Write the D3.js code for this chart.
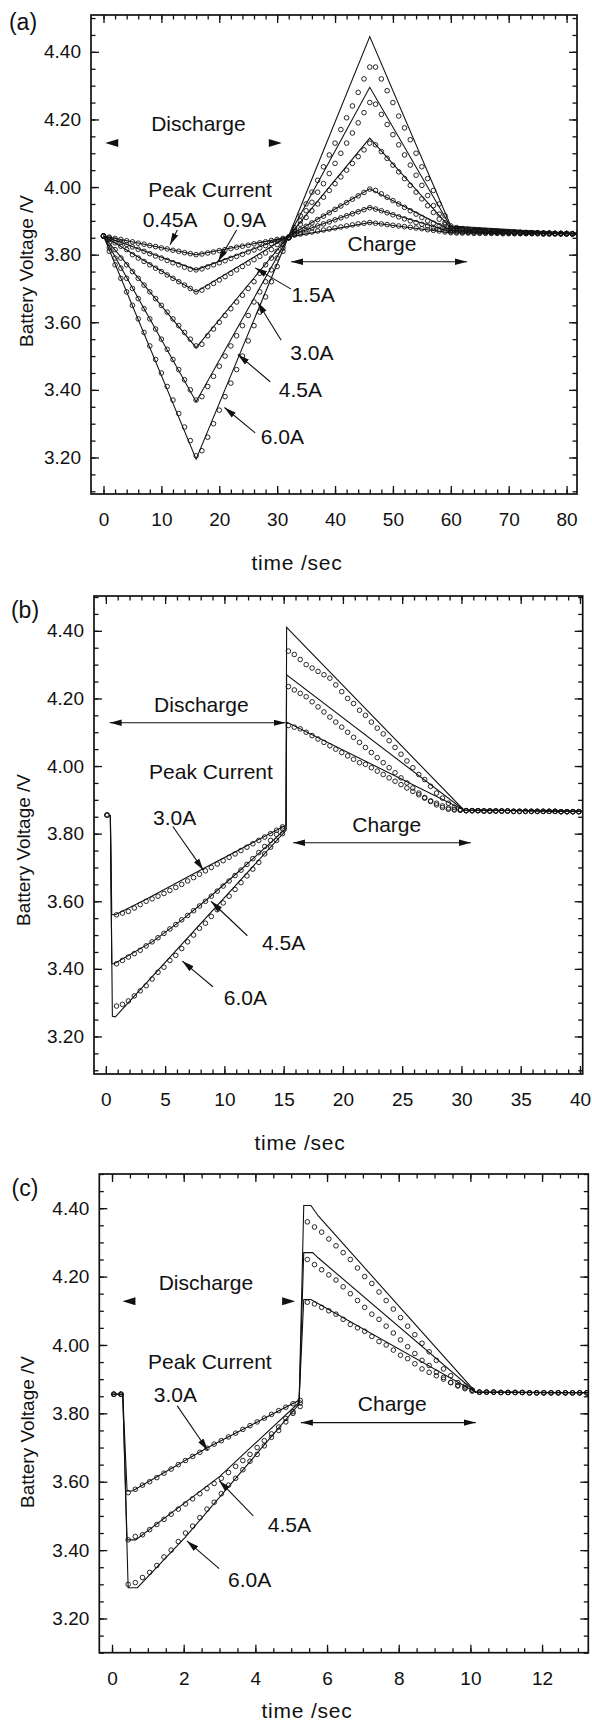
<!DOCTYPE html>
<html>
<head>
<meta charset="utf-8">
<script src="https://cdn.jsdelivr.net/npm/d3@7"></script>
<style>
  body { margin: 0; background: #fff; }
  svg { display: block; background: #fff; }
  text { font-family: 'Liberation Sans', Arial, sans-serif; fill: #111; }
</style>
</head>
<body>
<div id="chart-container"></div>
<script>
// ---------- shared tick labels ----------
const voltTicks = [3.2, 3.4, 3.6, 3.8, 4.0, 4.2, 4.4]
const timeTicksA = [0, 10, 20, 30, 40, 50, 60, 70, 80]
const timeTicksB = [0, 5, 10, 15, 20, 25, 30, 35, 40]
const timeTicksC = [0, 2, 4, 6, 8, 10, 12]

// ---------- panel (a): simulated lines (vertex times + values) ----------
const lineTimesA = [0, 16, 32, 46, 60, 82]
const lineA045 = [3.855, 3.800, 3.852, 3.895, 3.865, 3.861]
const lineA09 = [3.855, 3.755, 3.855, 3.940, 3.868, 3.861]
const lineA15 = [3.855, 3.690, 3.855, 3.995, 3.872, 3.862]
const lineA30 = [3.855, 3.525, 3.855, 4.145, 3.878, 3.862]
const lineA45 = [3.855, 3.365, 3.855, 4.295, 3.882, 3.862]
const lineA60 = [3.855, 3.195, 3.855, 4.445, 3.885, 3.862]

// panel (a): measured points, one every second from 0 to 82 s
const pointTimesA = d3.range(0, 83, 1)
const ptsA045 = [
  3.855, 3.852, 3.848, 3.845, 3.841, 3.838, 3.834, 3.831, 3.827, 3.824, 3.82, 3.817, 3.813, 3.81, 3.806, 3.803, 3.80,
  3.802, 3.805, 3.808, 3.812, 3.815, 3.818, 3.822, 3.825, 3.828, 3.832, 3.835, 3.838, 3.842, 3.845, 3.848, 3.852,
  3.858, 3.861, 3.864, 3.867, 3.87, 3.873, 3.876, 3.879, 3.882, 3.885, 3.888, 3.891, 3.893, 3.895, 3.893, 3.891,
  3.889, 3.887, 3.885, 3.883, 3.881, 3.879, 3.877, 3.874, 3.872, 3.87, 3.867, 3.865,
  3.864, 3.864, 3.864, 3.863, 3.863, 3.863, 3.863, 3.863, 3.862, 3.862, 3.862, 3.862, 3.862, 3.862, 3.862, 3.861,
  3.861, 3.861, 3.861, 3.861, 3.861, 3.861,
]
const ptsA09 = [
  3.855, 3.849, 3.843, 3.836, 3.83, 3.823, 3.816, 3.81, 3.803, 3.796, 3.79, 3.783, 3.776, 3.77, 3.763, 3.757, 3.755,
  3.758, 3.764, 3.77, 3.776, 3.782, 3.789, 3.795, 3.801, 3.808, 3.814, 3.82, 3.827, 3.833, 3.84, 3.846, 3.852,
  3.861, 3.867, 3.873, 3.879, 3.885, 3.891, 3.897, 3.903, 3.909, 3.915, 3.921, 3.927, 3.933, 3.939, 3.935, 3.93,
  3.924, 3.918, 3.912, 3.906, 3.90, 3.895, 3.89, 3.885, 3.88, 3.875, 3.871, 3.868,
  3.867, 3.866, 3.866, 3.865, 3.865, 3.865, 3.864, 3.864, 3.864, 3.864, 3.863, 3.863, 3.863, 3.863, 3.863, 3.862,
  3.862, 3.862, 3.862, 3.862, 3.862, 3.861,
]
const ptsA15 = [
  3.855, 3.845, 3.835, 3.825, 3.815, 3.80, 3.79, 3.78, 3.77, 3.76, 3.75, 3.74, 3.73, 3.72, 3.71, 3.70, 3.69,
  3.695, 3.705, 3.715, 3.725, 3.735, 3.745, 3.755, 3.765, 3.775, 3.785, 3.795, 3.805, 3.815, 3.83, 3.84, 3.85,
  3.864, 3.874, 3.884, 3.894, 3.904, 3.914, 3.924, 3.934, 3.944, 3.954, 3.964, 3.974, 3.984, 3.994, 3.99, 3.98,
  3.97, 3.96, 3.95, 3.94, 3.93, 3.92, 3.91, 3.90, 3.893, 3.886, 3.879, 3.872,
  3.87, 3.869, 3.868, 3.868, 3.867, 3.867, 3.866, 3.866, 3.865, 3.865, 3.865, 3.864, 3.864, 3.864, 3.863, 3.863,
  3.863, 3.863, 3.862, 3.862, 3.862, 3.862,
]
const ptsA30 = [
  3.855, 3.835, 3.815, 3.79, 3.77, 3.75, 3.73, 3.71, 3.69, 3.67, 3.65, 3.63, 3.61, 3.59, 3.57, 3.55, 3.53,
  3.535, 3.56, 3.58, 3.60, 3.62, 3.64, 3.66, 3.68, 3.70, 3.72, 3.745, 3.77, 3.79, 3.81, 3.83, 3.85,
  3.87, 3.89, 3.91, 3.93, 3.95, 3.97, 3.99, 4.01, 4.03, 4.05, 4.07, 4.09, 4.11, 4.13, 4.125, 4.105,
  4.085, 4.065, 4.045, 4.025, 4.005, 3.985, 3.965, 3.945, 3.925, 3.905, 3.89, 3.877,
  3.875, 3.873, 3.872, 3.871, 3.87, 3.869, 3.868, 3.867, 3.867, 3.866, 3.866, 3.865, 3.865, 3.864, 3.864, 3.864,
  3.863, 3.863, 3.863, 3.862, 3.862, 3.862,
]
const ptsA45 = [
  3.855, 3.82, 3.79, 3.76, 3.73, 3.70, 3.67, 3.64, 3.61, 3.58, 3.55, 3.52, 3.49, 3.46, 3.43, 3.40, 3.37,
  3.38, 3.41, 3.44, 3.47, 3.50, 3.53, 3.56, 3.59, 3.62, 3.66, 3.69, 3.72, 3.755, 3.79, 3.82, 3.85,
  3.875, 3.90, 3.93, 3.955, 3.985, 4.01, 4.04, 4.07, 4.10, 4.13, 4.16, 4.19, 4.22, 4.25, 4.245, 4.215,
  4.185, 4.155, 4.125, 4.095, 4.065, 4.035, 4.005, 3.975, 3.945, 3.92, 3.895, 3.88,
  3.877, 3.875, 3.873, 3.872, 3.871, 3.87, 3.869, 3.868, 3.867, 3.867, 3.866, 3.866, 3.865, 3.865, 3.864, 3.864,
  3.864, 3.863, 3.863, 3.863, 3.862, 3.862,
]
const ptsA60 = [
  3.855, 3.81, 3.77, 3.73, 3.69, 3.65, 3.61, 3.57, 3.53, 3.49, 3.45, 3.41, 3.37, 3.33, 3.29, 3.25, 3.205,
  3.22, 3.26, 3.30, 3.34, 3.38, 3.42, 3.46, 3.50, 3.545, 3.59, 3.63, 3.675, 3.72, 3.765, 3.81, 3.85,
  3.88, 3.915, 3.95, 3.985, 4.02, 4.06, 4.095, 4.13, 4.17, 4.205, 4.24, 4.28, 4.32, 4.355, 4.355, 4.32,
  4.285, 4.25, 4.21, 4.175, 4.14, 4.10, 4.06, 4.025, 3.99, 3.95, 3.915, 3.885,
  3.88, 3.877, 3.875, 3.873, 3.872, 3.871, 3.87, 3.869, 3.868, 3.867, 3.867, 3.866, 3.866, 3.865, 3.865, 3.864,
  3.864, 3.863, 3.863, 3.863, 3.862, 3.862,
]

// ---------- panel (b) ----------
const lineB30 = [[0.38, 3.855], [0.5, 3.56], [0.8, 3.56], [3.4, 3.606], [7.8, 3.689], [11.5, 3.757],
  [15.2, 3.825], [15.25, 4.13], [30.2, 3.87], [40.3, 3.866]]
const lineB45 = [[0.38, 3.855], [0.5, 3.415], [0.7, 3.415], [4, 3.482], [6.5, 3.547], [8.55, 3.606],
  [11.5, 3.697], [15.2, 3.815], [15.25, 4.27], [30.2, 3.87], [40.3, 3.866]]
const lineB60 = [[0.38, 3.855], [0.55, 3.26], [0.8, 3.258], [15.2, 3.81], [15.25, 4.41], [30.2, 3.87],
  [40.3, 3.866]]

// measured points: one at 0.1 s, then every 0.5 s from 0.9 s to 39.9 s
const pointTimesB = [0.1].concat(d3.range(0.9, 40, 0.5))
const ptsB30 = [
  3.855,
  3.56, 3.565, 3.57, 3.58, 3.59, 3.60, 3.607, 3.615, 3.623, 3.632, 3.641, 3.65, 3.66, 3.67, 3.68, 3.69, 3.70,
  3.71, 3.72, 3.73, 3.74, 3.75, 3.76, 3.77, 3.78, 3.79, 3.80, 3.81, 3.82,
  4.12, 4.115, 4.11, 4.10, 4.09, 4.08, 4.07, 4.06, 4.05, 4.04, 4.03, 4.02, 4.01, 4.005, 3.995, 3.985, 3.975,
  3.965, 3.955, 3.945, 3.935, 3.925, 3.915, 3.905, 3.897, 3.89, 3.882, 3.876, 3.872, 3.87,
  3.868, 3.868, 3.868, 3.867, 3.867, 3.867, 3.867, 3.867, 3.866, 3.866, 3.866, 3.866, 3.866, 3.866, 3.866,
  3.866, 3.865, 3.865, 3.865, 3.865,
]
const ptsB45 = [
  3.855,
  3.415, 3.425, 3.435, 3.445, 3.455, 3.468, 3.48, 3.492, 3.505, 3.518, 3.531, 3.545, 3.558, 3.572, 3.586,
  3.60, 3.615, 3.63, 3.645, 3.66, 3.676, 3.692, 3.709, 3.726, 3.744, 3.762, 3.78, 3.798, 3.815,
  4.235, 4.225, 4.215, 4.205, 4.19, 4.175, 4.16, 4.145, 4.13, 4.115, 4.10, 4.085, 4.07, 4.055, 4.04, 4.025,
  4.01, 3.995, 3.98, 3.965, 3.95, 3.935, 3.92, 3.907, 3.895, 3.885, 3.877, 3.872, 3.87, 3.869,
  3.868, 3.868, 3.868, 3.867, 3.867, 3.867, 3.867, 3.867, 3.866, 3.866, 3.866, 3.866, 3.866, 3.866, 3.866,
  3.866, 3.865, 3.865, 3.865, 3.865,
]
const ptsB60 = [
  3.855,
  3.29, 3.295, 3.305, 3.32, 3.335, 3.35, 3.37, 3.39, 3.405, 3.425, 3.44, 3.46, 3.48, 3.50, 3.52, 3.535,
  3.555, 3.575, 3.595, 3.615, 3.635, 3.655, 3.675, 3.695, 3.715, 3.74, 3.76, 3.78, 3.80,
  4.34, 4.33, 4.315, 4.30, 4.29, 4.28, 4.27, 4.26, 4.24, 4.22, 4.20, 4.185, 4.165, 4.15, 4.13, 4.112, 4.095,
  4.075, 4.055, 4.035, 4.015, 3.995, 3.975, 3.96, 3.94, 3.92, 3.905, 3.89, 3.878, 3.872,
  3.868, 3.868, 3.868, 3.867, 3.867, 3.867, 3.867, 3.867, 3.866, 3.866, 3.866, 3.866, 3.866, 3.866, 3.866,
  3.866, 3.865, 3.865, 3.865, 3.865,
]

// ---------- panel (c) ----------
const lineC30 = [[0, 3.856], [0.3, 3.856], [0.42, 3.573], [0.57, 3.573], [2.62, 3.697], [5.22, 3.838],
  [5.35, 4.133], [5.55, 4.133], [10.15, 3.862], [13.4, 3.86]]
const lineC45 = [[0, 3.856], [0.3, 3.856], [0.42, 3.43], [0.66, 3.43], [3.0, 3.615], [5.22, 3.832],
  [5.35, 4.27], [5.6, 4.27], [5.75, 4.255], [10.15, 3.862], [13.4, 3.86]]
const lineC60 = [[0, 3.856], [0.3, 3.856], [0.45, 3.29], [0.71, 3.29], [2.04, 3.437], [5.22, 3.827],
  [5.35, 4.408], [5.55, 4.408], [5.75, 4.378], [10.15, 3.862], [13.4, 3.86]]

// measured points every 0.2 s from 0.05 s
const pointTimesC = d3.range(0.05, 13.3, 0.2)
const ptsC30 = [
  3.856, 3.856,
  3.568, 3.578, 3.59, 3.60, 3.612, 3.625, 3.637, 3.65, 3.662, 3.674, 3.686, 3.698, 3.71, 3.72, 3.731,
  3.742, 3.753, 3.764, 3.775, 3.786, 3.797, 3.808, 3.818, 3.828, 3.838,
  4.125, 4.12, 4.11, 4.10, 4.09, 4.075, 4.06, 4.05, 4.04, 4.025, 4.01, 4.0, 3.985, 3.97, 3.96, 3.945, 3.93,
  3.92, 3.91, 3.90, 3.89, 3.882, 3.875, 3.868, 3.862,
  3.862, 3.862, 3.861, 3.861, 3.861, 3.861, 3.86, 3.86, 3.86, 3.86, 3.86, 3.86, 3.86, 3.86, 3.86,
]
const ptsC45 = [
  3.856, 3.856,
  3.43, 3.44, 3.445, 3.46, 3.475, 3.49, 3.505, 3.52, 3.535, 3.55, 3.565, 3.58, 3.595, 3.61, 3.627, 3.645,
  3.662, 3.68, 3.70, 3.72, 3.74, 3.76, 3.785, 3.805, 3.83,
  4.25, 4.235, 4.22, 4.205, 4.19, 4.17, 4.15, 4.13, 4.11, 4.09, 4.075, 4.055, 4.035, 4.015, 3.995, 3.975,
  3.955, 3.94, 3.92, 3.905, 3.89, 3.88, 3.872, 3.865, 3.862,
  3.862, 3.862, 3.861, 3.861, 3.861, 3.861, 3.86, 3.86, 3.86, 3.86, 3.86, 3.86, 3.86, 3.86, 3.86,
]
const ptsC60 = [
  3.856, 3.856,
  3.30, 3.305, 3.32, 3.335, 3.355, 3.38, 3.40, 3.425, 3.45, 3.47, 3.495, 3.52, 3.54, 3.565, 3.59, 3.61,
  3.635, 3.66, 3.68, 3.705, 3.73, 3.75, 3.775, 3.80, 3.82,
  4.36, 4.345, 4.33, 4.31, 4.29, 4.27, 4.25, 4.225, 4.20, 4.18, 4.155, 4.13, 4.105, 4.08, 4.055, 4.03,
  4.005, 3.98, 3.955, 3.93, 3.91, 3.89, 3.88, 3.868, 3.862,
  3.862, 3.862, 3.861, 3.861, 3.861, 3.861, 3.86, 3.86, 3.86, 3.86, 3.86, 3.86, 3.86, 3.86, 3.86,
]

// ---------- panel layout ----------
const panels = [
  {
    id: 'a', tag: '(a)', tagPos: [23, 22],
    left: 91, right: 577, top: 15, bottom: 494,
    xDomain: [-2.16, 81.8], yDomain: [3.092, 4.509],
    xTicks: timeTicksA, xMinorStep: 2,
    xTitlePos: [297, 562], yTitlePos: [26, 271],
    lines: [lineA045, lineA09, lineA15, lineA30, lineA45, lineA60].map(vals => lineTimesA.map((t, i) => [t, vals[i]])),
    points: [ptsA045, ptsA09, ptsA15, ptsA30, ptsA45, ptsA60].map(vals => pointTimesA.map((t, i) => [t, vals[i]])),
    labels: [
      ['Discharge', 16.4, 4.187], ['Peak Current', 18.4, 3.992], ['0.45A', 11.5, 3.903], ['0.9A', 24.4, 3.903],
      ['1.5A', 36.2, 3.681], ['3.0A', 36.0, 3.51], ['4.5A', 34.0, 3.402], ['6.0A', 30.9, 3.262], ['Charge', 48.1, 3.832],
    ],
    arrows: [
      [12.75, 3.873, 11.5, 3.829], [23.0, 3.873, 19.8, 3.780], [32.4, 3.698, 26.2, 3.761],
      [30.7, 3.547, 26.6, 3.660], [28.8, 3.424, 23.2, 3.505], [26.2, 3.273, 20.9, 3.348],
    ],
    doubleArrows: [[32.4, 62.8, 3.779]],
    heads: [[0.3, 4.13, -1], [30.8, 4.13, 1]],
  },
  {
    id: 'b', tag: '(b)', tagPos: [25, 610],
    left: 94, right: 582.7, top: 596, bottom: 1074,
    xDomain: [-1.0, 40.23], yDomain: [3.089, 4.503],
    xTicks: timeTicksB, xMinorStep: 1,
    xTitlePos: [300, 1142], yTitlePos: [23, 850],
    lines: [lineB30, lineB45, lineB60],
    points: [ptsB30, ptsB45, ptsB60].map(vals => pointTimesB.map((t, i) => [t, vals[i]])),
    labels: [
      ['Discharge', 8.06, 4.182], ['Peak Current', 8.87, 3.983], ['3.0A', 5.8, 3.848], ['4.5A', 15.0, 3.477],
      ['6.0A', 11.77, 3.315], ['Charge', 23.7, 3.827],
    ],
    arrows: [[5.65, 3.821, 8.23, 3.692], [11.94, 3.498, 8.87, 3.60], [9.03, 3.347, 6.45, 3.423]],
    doubleArrows: [[0.32, 15.16, 4.128], [15.8, 30.8, 3.773]],
    heads: [],
  },
  {
    id: 'c', tag: '(c)', tagPos: [25, 1188],
    left: 99.3, right: 588.3, top: 1174, bottom: 1652.7,
    xDomain: [-0.355, 13.29], yDomain: [3.10, 4.50],
    xTicks: timeTicksC, xMinorStep: 0.5,
    xTitlePos: [307, 1710], yTitlePos: [27, 1432],
    lines: [lineC30, lineC45, lineC60],
    points: [ptsC30, ptsC45, ptsC60].map(vals => pointTimesC.map((t, i) => [t, vals[i]])),
    labels: [
      ['Discharge', 2.62, 4.184], ['Peak Current', 2.73, 3.951], ['3.0A', 1.77, 3.854], ['4.5A', 4.95, 3.476],
      ['6.0A', 3.84, 3.314], ['Charge', 7.82, 3.83],
    ],
    arrows: [[1.82, 3.822, 2.67, 3.692], [3.94, 3.50, 2.99, 3.603], [2.99, 3.346, 2.09, 3.427]],
    doubleArrows: [[5.27, 10.15, 3.773]],
    heads: [[0.29, 4.128, -1], [5.11, 4.128, 1]],
  },
]

const svg = d3
  .select('#chart-container')
  .append('svg')
  .attr('width', 592)
  .attr('height', 1720)

const defs = svg.append('defs')
defs
  .append('marker')
  .attr('id', 'arrowHead')
  .attr('viewBox', '0 0 12 8')
  .attr('refX', 12)
  .attr('refY', 4)
  .attr('markerWidth', 12)
  .attr('markerHeight', 8)
  .attr('markerUnits', 'userSpaceOnUse')
  .attr('orient', 'auto-start-reverse')
  .append('path')
  .attr('d', 'M0,0.8 L12,4 L0,7.2 Z')
  .attr('fill', '#111')

function drawPanel(p) {
  const g = svg.append('g')
  const x = d3.scaleLinear().domain(p.xDomain).range([p.left, p.right])
  const y = d3.scaleLinear().domain(p.yDomain).range([p.bottom, p.top])

  defs
    .append('clipPath')
    .attr('id', 'clip-' + p.id)
    .append('rect')
    .attr('x', p.left)
    .attr('y', p.top)
    .attr('width', p.right - p.left)
    .attr('height', p.bottom - p.top)

  const xMinor = d3.range(p.xTicks[0], p.xDomain[1], p.xMinorStep)
  const yMinor = d3.range(3.1, 4.51, 0.05).filter(v => v >= p.yDomain[0] && v <= p.yDomain[1])

  const styleAxis = sel => {
    sel.select('.domain').remove()
    sel.selectAll('line').attr('stroke', '#111').attr('stroke-width', 1.3)
    sel.selectAll('text')
      .attr('fill', '#111')
      .style('font-size', '19px')
      .style('font-family', "'Liberation Sans', Arial, sans-serif")
  }

  // minor ticks on all four sides, pointing inward
  g.append('g').attr('transform', `translate(0,${p.bottom})`)
    .call(d3.axisBottom(x).tickValues(xMinor).tickSize(-4.5).tickFormat('')).call(styleAxis)
  g.append('g').attr('transform', `translate(0,${p.top})`)
    .call(d3.axisTop(x).tickValues(xMinor).tickSize(-4.5).tickFormat('')).call(styleAxis)
  g.append('g').attr('transform', `translate(${p.left},0)`)
    .call(d3.axisLeft(y).tickValues(yMinor).tickSize(-4.5).tickFormat('')).call(styleAxis)
  g.append('g').attr('transform', `translate(${p.right},0)`)
    .call(d3.axisRight(y).tickValues(yMinor).tickSize(-4.5).tickFormat('')).call(styleAxis)

  // major ticks with labels
  g.append('g').attr('transform', `translate(0,${p.bottom})`)
    .call(d3.axisBottom(x).tickValues(p.xTicks).tickSize(-8).tickPadding(19).tickFormat(d3.format('d')))
    .call(styleAxis)
  g.append('g').attr('transform', `translate(0,${p.top})`)
    .call(d3.axisTop(x).tickValues(p.xTicks).tickSize(-8).tickFormat('')).call(styleAxis)
  g.append('g').attr('transform', `translate(${p.left},0)`)
    .call(d3.axisLeft(y).tickValues(voltTicks).tickSize(-8).tickPadding(10).tickFormat(d3.format('.2f')))
    .call(styleAxis)
  g.append('g').attr('transform', `translate(${p.right},0)`)
    .call(d3.axisRight(y).tickValues(voltTicks).tickSize(-8).tickFormat('')).call(styleAxis)

  // frame
  g.append('rect')
    .attr('x', p.left)
    .attr('y', p.top)
    .attr('width', p.right - p.left)
    .attr('height', p.bottom - p.top)
    .attr('fill', 'none')
    .attr('stroke', '#111')
    .attr('stroke-width', 1.7)

  const plot = g.append('g').attr('clip-path', `url(#clip-${p.id})`)

  // simulation: solid lines
  const line = d3.line().x(d => x(d[0])).y(d => y(d[1]))
  plot.selectAll('path.sim')
    .data(p.lines)
    .join('path')
    .attr('class', 'sim')
    .attr('d', line)
    .attr('fill', 'none')
    .attr('stroke', '#111')
    .attr('stroke-width', 1.1)

  // experiment: open circles
  plot.selectAll('g.exp')
    .data(p.points)
    .join('g')
    .attr('class', 'exp')
    .selectAll('circle')
    .data(d => d)
    .join('circle')
    .attr('cx', d => x(d[0]))
    .attr('cy', d => y(d[1]))
    .attr('r', 2.3)
    .attr('fill', 'none')
    .attr('stroke', '#111')
    .attr('stroke-width', 0.9)

  // annotations
  const ann = g.append('g')
  ann.selectAll('text.lbl')
    .data(p.labels)
    .join('text')
    .attr('class', 'lbl')
    .attr('x', d => x(d[1]))
    .attr('y', d => y(d[2]))
    .attr('text-anchor', 'middle')
    .attr('dominant-baseline', 'central')
    .style('font-size', '21px')
    .text(d => d[0])

  ann.selectAll('line.arr')
    .data(p.arrows)
    .join('line')
    .attr('class', 'arr')
    .attr('x1', d => x(d[0]))
    .attr('y1', d => y(d[1]))
    .attr('x2', d => x(d[2]))
    .attr('y2', d => y(d[3]))
    .attr('stroke', '#111')
    .attr('stroke-width', 1.1)
    .attr('marker-end', 'url(#arrowHead)')

  ann.selectAll('line.dbl')
    .data(p.doubleArrows)
    .join('line')
    .attr('class', 'dbl')
    .attr('x1', d => x(d[0]))
    .attr('x2', d => x(d[1]))
    .attr('y1', d => y(d[2]))
    .attr('y2', d => y(d[2]))
    .attr('stroke', '#111')
    .attr('stroke-width', 1.1)
    .attr('marker-start', 'url(#arrowHead)')
    .attr('marker-end', 'url(#arrowHead)')

  // lone arrowheads (discharge span in a and c)
  ann.selectAll('path.head')
    .data(p.heads)
    .join('path')
    .attr('class', 'head')
    .attr('d', d => {
      const tx = x(d[0])
      const ty = y(d[1])
      const bx = tx - d[2] * 13
      return `M${tx},${ty} L${bx},${ty - 4} L${bx},${ty + 4} Z`
    })
    .attr('fill', '#111')

  // panel tag and axis titles
  g.append('text')
    .attr('x', p.tagPos[0])
    .attr('y', p.tagPos[1])
    .attr('text-anchor', 'middle')
    .attr('dominant-baseline', 'central')
    .style('font-size', '23px')
    .text(p.tag)

  g.append('text')
    .attr('x', p.xTitlePos[0])
    .attr('y', p.xTitlePos[1])
    .attr('text-anchor', 'middle')
    .attr('dominant-baseline', 'central')
    .style('font-size', '21px')
    .style('letter-spacing', '0.8px')
    .text('time /sec')

  g.append('text')
    .attr('transform', `translate(${p.yTitlePos[0]},${p.yTitlePos[1]}) rotate(-90)`)
    .attr('text-anchor', 'middle')
    .attr('dominant-baseline', 'central')
    .style('font-size', '19px')
    .text('Battery Voltage /V')
}

panels.forEach(drawPanel)
</script>
</body>
</html>
